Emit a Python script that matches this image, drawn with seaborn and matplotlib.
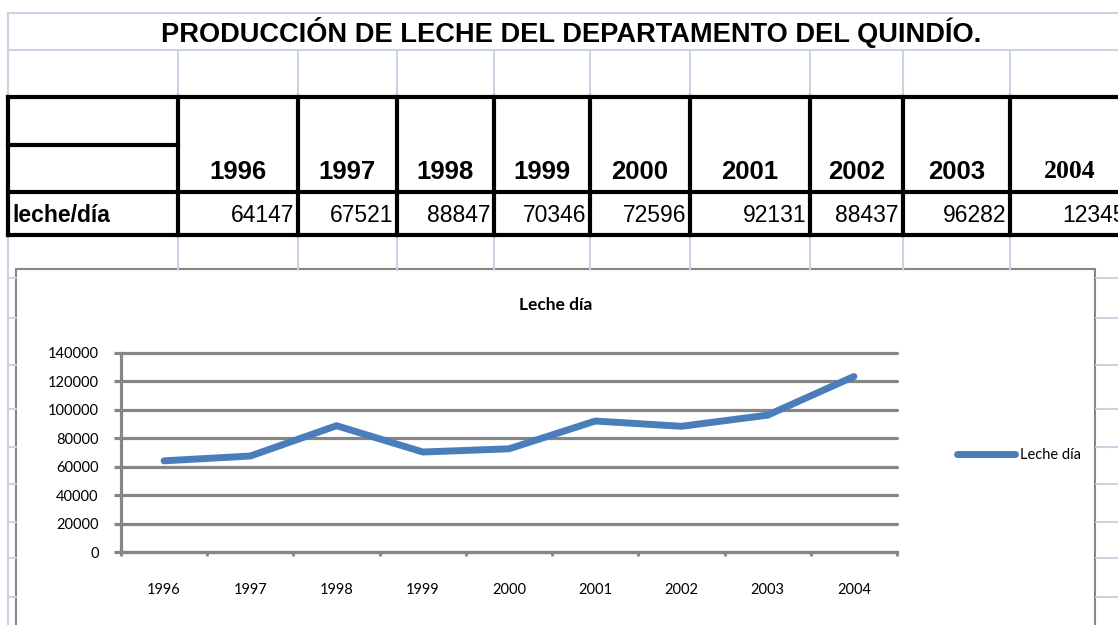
import matplotlib
matplotlib.use('Agg')
import matplotlib.pyplot as plt
from matplotlib.patches import Rectangle
from matplotlib.ticker import FixedLocator
import seaborn as sns
import pandas as pd

# datos de la hoja
years = ['1996', '1997', '1998', '1999', '2000', '2001', '2002', '2003', '2004']
leche_dia = [64147, 67521, 88847, 70346, 72596, 92131, 88437, 96282, 123453]
titulo = 'PRODUCCIÓN DE LECHE DEL DEPARTAMENTO DEL QUINDÍO.'
fila_label = 'leche/día'
serie = 'Leche día'
y_ticks = [0, 20000, 40000, 60000, 80000, 100000, 120000, 140000]

df = pd.DataFrame({'year': years, serie: leche_dia})

W, H = 1118, 625
GRID = '#c9d3e3'
GRAY = '#868686'
BLUE = '#4a7ebb'
TABLE_FONT = ['Liberation Sans', 'DejaVu Sans']

sns.set_theme(style='white')
plt.rcParams['font.family'] = ['Lato', 'DejaVu Sans']
plt.rcParams['text.color'] = 'black'

fig = plt.figure(figsize=(W / 100, H / 100), dpi=100)
fig.patch.set_facecolor('white')

# capa de fondo en pixeles: cuadricula de la hoja y tabla
bg = fig.add_axes([0, 0, 1, 1], zorder=0)
bg.set_xlim(0, W)
bg.set_ylim(H, 0)
bg.axis('off')

col_x = [178, 298, 397, 494, 590, 690, 810, 903, 1010]
col_r = col_x[1:] + [1143]

for y in [12.7, 50]:
    bg.plot([8, W], [y, y], color=GRID, lw=1.5)
bg.plot([8, 8], [12.7, H], color=GRID, lw=1.5)
for x in col_x:
    bg.plot([x, x], [50, 97], color=GRID, lw=1.5)
    bg.plot([x, x], [235, 270], color=GRID, lw=1.5)
for y in [278, 318, 365, 409, 447, 484, 522, 558, 597]:
    bg.plot([8, 16], [y, y], color=GRID, lw=1.5)
    bg.plot([1096, W], [y, y], color=GRID, lw=1.5)

thick = dict(color='black', lw=3, solid_capstyle='projecting')
for y in [97, 192, 235]:
    bg.plot([8, W], [y, y], **thick)
bg.plot([8, 178], [145, 145], **thick)
for x in [8] + col_x:
    bg.plot([x, x], [97, 235], **thick)

bg.text(571, 32, titulo, ha='center', va='center', fontsize=19.6,
        fontweight='bold', family=TABLE_FONT)
bg.text(12, 215, fila_label, ha='left', va='center', fontsize=16.5,
        fontweight='bold', family=TABLE_FONT)
for x, r, yr, v in zip(col_x, col_r, years, leche_dia):
    fam = ['Liberation Serif'] if yr == '2004' else TABLE_FONT
    bg.text((x + min(r, 1130)) / 2, 172, yr, ha='center', va='center',
            fontsize=18.5, fontweight='bold', family=fam)
    bg.text(r - 4, 215, str(v), ha='right', va='center', fontsize=16.5,
            family=TABLE_FONT)

# marco del grafico
bg.add_patch(Rectangle((16, 269), 1095 - 16, 400, facecolor='white',
                       edgecolor=GRAY, lw=1.5))

# grafico
ax = fig.add_axes([121 / W, 1 - 552 / H, (897 - 121) / W, (552 - 353) / H], zorder=2)
ax.patch.set_visible(False)
for yv in y_ticks:
    ax.axhline(yv, color=GRAY, lw=2.3, clip_on=False, zorder=0)
sns.lineplot(data=df, x='year', y=serie, ax=ax, color=BLUE, lw=5,
             label=serie, sort=False, solid_capstyle='round', zorder=3)

ax.set_xlim(-0.5, len(years) - 0.5)
ax.set_ylim(0, 140000)
ax.set_yticks(y_ticks)
ax.set_yticklabels([str(t) for t in y_ticks])
ax.set_xlabel('')
ax.set_ylabel('')
ax.grid(False)
for s in ['top', 'right']:
    ax.spines[s].set_visible(False)
for s in ['left', 'bottom']:
    ax.spines[s].set_color(GRAY)
    ax.spines[s].set_linewidth(2.3)

ax.xaxis.set_minor_locator(FixedLocator([i - 0.5 for i in range(len(years) + 1)]))
ax.tick_params(axis='x', which='major', length=0, pad=22, labelsize=10.5,
               labelcolor='black')
ax.tick_params(axis='x', which='minor', bottom=True, length=3, width=2,
               color=GRAY, direction='out')
ax.tick_params(axis='y', left=True, length=5, width=2.3, color=GRAY, pad=11,
               labelsize=10.5, labelcolor='black', direction='out')

ax.legend(loc='center left', bbox_to_anchor=(957 / W, 1 - 455 / H),
          bbox_transform=fig.transFigure, frameon=False, handlelength=4,
          handletextpad=0.3, borderpad=0, borderaxespad=0,
          prop={'size': 10.5})

fig.text(556 / W, 1 - 305 / H, serie, ha='center', va='center',
         fontsize=12.5, fontweight='bold')

fig.savefig('out.png', dpi=100)
